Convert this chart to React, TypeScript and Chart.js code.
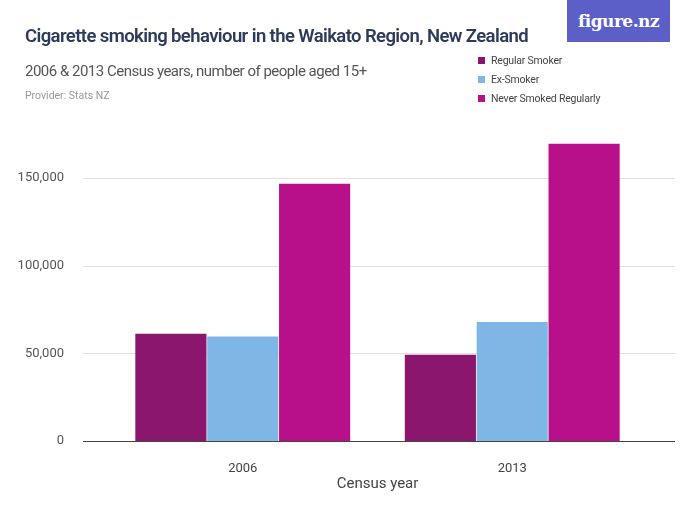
import React, { useEffect, useRef } from "react";
import { Chart, registerables } from "chart.js";
Chart.register(...registerables);

const categories = ["2006", "2013"];
const regularSmoker = [61200, 49200];
const exSmoker = [59600, 67900];
const neverSmoked = [146600, 169400];
const seriesNames = ["Regular Smoker", "Ex-Smoker", "Never Smoked Regularly"];
const colors = ["#8a166d", "#7eb6e5", "#b8108a"];

const font = "Roboto, 'Liberation Sans', sans-serif";

export default function App() {
  const ref = useRef<HTMLCanvasElement>(null);
  useEffect(() => {
    document.body.style.margin = "0";
    const gridPlugin = {
      id: "grid",
      beforeDatasetsDraw(chart: any) {
        const ctx = chart.ctx;
        const y = chart.scales.y;
        ctx.save();
        y.ticks.forEach((t: any) => {
          const py = Math.round(y.getPixelForValue(t.value)) + 0.5;
          ctx.strokeStyle = t.value === 0 ? "#444" : "#e0e0e0";
          ctx.lineWidth = 1;
          ctx.beginPath();
          ctx.moveTo(83, py);
          ctx.lineTo(675, py);
          ctx.stroke();
        });
        ctx.restore();
      },
    };
    const chart = new Chart(ref.current!, {
      type: "bar",
      data: {
        labels: categories,
        datasets: [regularSmoker, exSmoker, neverSmoked].map((d, i) => ({
          label: seriesNames[i],
          data: d,
          backgroundColor: colors[i],
          categoryPercentage: 0.8,
          barPercentage: 0.99,
        })),
      },
      options: {
        animation: false,
        responsive: false,
        layout: { padding: { left: 8, right: 53, top: 134, bottom: 30 } },
        plugins: { legend: { display: false }, tooltip: { enabled: false } },
        scales: {
          x: {
            grid: { display: false },
            border: { display: false },
            ticks: { color: "#444", font: { family: font, size: 13 }, padding: 12 },
            title: { display: true, text: "Census year", color: "#444", font: { family: font, size: 15 }, padding: 2 },
            afterFit: (s: any) => { s.height = 54; },
          },
          y: {
            min: 0,
            max: 175000,
            grid: { display: false },
            border: { display: false },
            afterBuildTicks: (s: any) => { s.ticks = [0, 50000, 100000, 150000].map((v) => ({ value: v })); },
            ticks: {
              color: "#555",
              font: { family: font, size: 13 },
              padding: 36,
              callback: (v: any) => Number(v).toLocaleString("en-US"),
            },
            afterFit: (s: any) => { s.width = 100; },
          },
        },
      },
      plugins: [gridPlugin],
    });
    return () => chart.destroy();
  }, []);

  return (
    <div style={{ position: "relative", width: 700, height: 525, fontFamily: font, background: "#fff" }}>
      <canvas ref={ref} width={700} height={525} style={{ position: "absolute", left: 0, top: 0 }} />
      <div style={{ position: "absolute", left: 25, top: 25, fontSize: 18.5, fontWeight: 600, color: "#2d3a5c", letterSpacing: -0.6, whiteSpace: "nowrap" }}>
        Cigarette smoking behaviour in the Waikato Region, New Zealand
      </div>
      <div style={{ position: "absolute", left: 25, top: 62, fontSize: 15, color: "#555", letterSpacing: -0.5, whiteSpace: "nowrap" }}>
        2006 &amp; 2013 Census years, number of people aged 15+
      </div>
      <div style={{ position: "absolute", left: 25, top: 89, fontSize: 10.5, color: "#999" }}>Provider: Stats NZ</div>
      <div style={{ position: "absolute", left: 567, top: 0, width: 103, height: 42, background: "#5b5fc7", color: "#fff", fontFamily: "'DejaVu Serif', serif", fontWeight: 700, fontSize: 17, letterSpacing: -0.5, display: "flex", alignItems: "center", justifyContent: "center" }}>
        figure.nz
      </div>
      {seriesNames.map((n, i) => (
        <div key={n} style={{ position: "absolute", left: 478, top: 54 + i * 19, fontSize: 10.5, color: "#444", letterSpacing: -0.2, display: "flex", alignItems: "center", whiteSpace: "nowrap" }}>
          <span style={{ display: "inline-block", width: 7, height: 7, background: colors[i], marginRight: 6 }} />
          {n}
        </div>
      ))}
    </div>
  );
}
